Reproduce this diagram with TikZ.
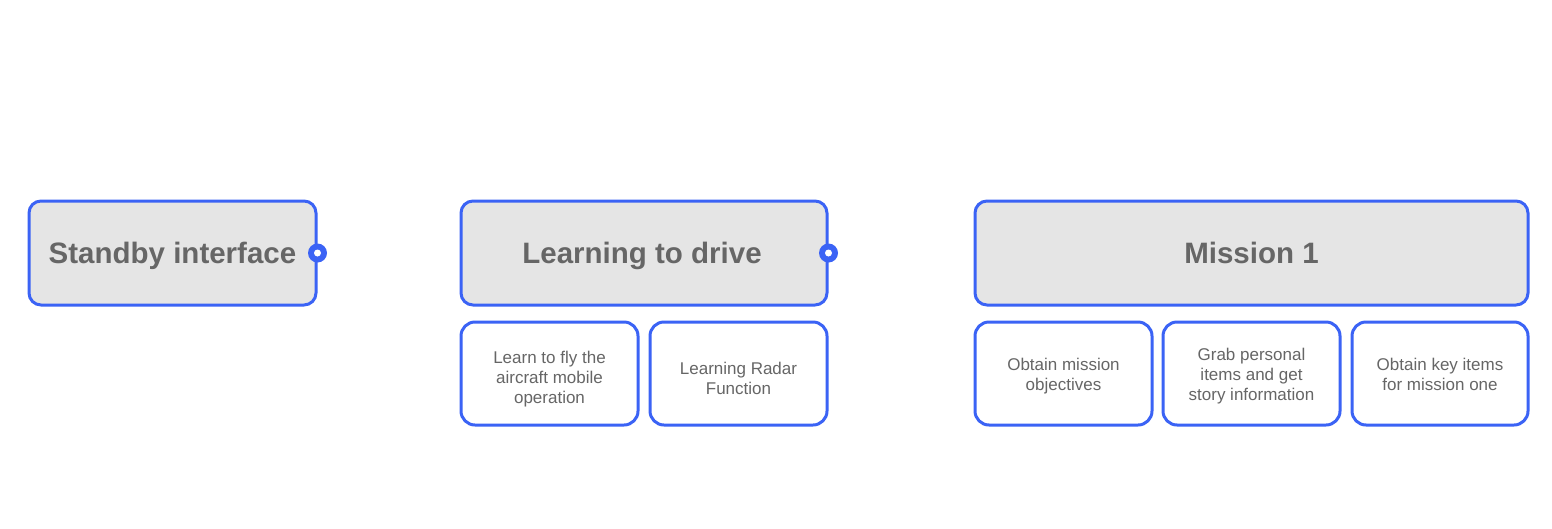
\documentclass[tikz,border=0pt]{standalone}
\usepackage{fontspec}
\setmainfont{Liberation Sans}
\definecolor{edge}{HTML}{3B63F5}
\definecolor{boxfill}{HTML}{E5E5E5}
\definecolor{txt}{HTML}{666666}
\tikzset{
  main/.style={draw=edge, line width=3pt, fill=boxfill, rounded corners=12pt, text=txt,
    font=\fontsize{29.5}{34}\selectfont\bfseries, minimum height=104pt, inner sep=0pt,
    text height=21.1pt, text depth=0pt},
  sub/.style={draw=edge, line width=3pt, fill=white, rounded corners=14pt,
    minimum height=103pt, minimum width=177pt, inner sep=0pt},
  subtext/.style={text=txt, font=\fontsize{17}{20}\selectfont, align=center, inner sep=0pt},
  port/.style={circle, fill=edge, inner sep=0pt, minimum size=19pt},
  porthole/.style={circle, fill=white, inner sep=0pt, minimum size=7pt}
}
\begin{document}
\begin{tikzpicture}[x=1pt,y=-1pt]
\useasboundingbox (0,0) rectangle (1552,528);
% main boxes
\node[main, minimum width=287pt] (standby) at (172.5,253) {Standby interface};
\node[main, minimum width=366pt] (drive) at (644,253) {\hspace*{-4pt}Learning to drive};
\node[main, minimum width=553pt] (mission) at (1251.5,253) {Mission 1};
% ports
\node[port] (p1) at (standby.east) {};
\node[porthole] (h1) at (p1) {};
\node[port] (p2) at (drive.east) {};
\node[porthole] (h2) at (p2) {};
% sub boxes
\node[sub] (s1) at (549.5,373.5) {};
\node[subtext] (s1t) at (549.5,379.3) {\strut Learn to fly the\\\strut aircraft mobile\\\strut operation};
\node[sub] (s2) at (738.5,373.5) {};
\node[subtext] (s2t) at (738.5,380) {\strut Learning Radar\\\strut Function};
\node[sub] (s3) at (1063.5,373.5) {};
\node[subtext] (s3t) at (1063.5,376) {\strut Obtain mission\\\strut objectives};
\node[sub] (s4) at (1251.5,373.5) {};
\node[subtext] (s4t) at (1251.5,376.7) {\strut Grab personal\\\strut items and get\\\strut story information};
\node[sub, minimum width=176pt] (s5) at (1440,373.5) {};
\node[subtext] (s5t) at (1440,376) {\strut Obtain key items\\\strut for mission one};
\end{tikzpicture}
\end{document}
